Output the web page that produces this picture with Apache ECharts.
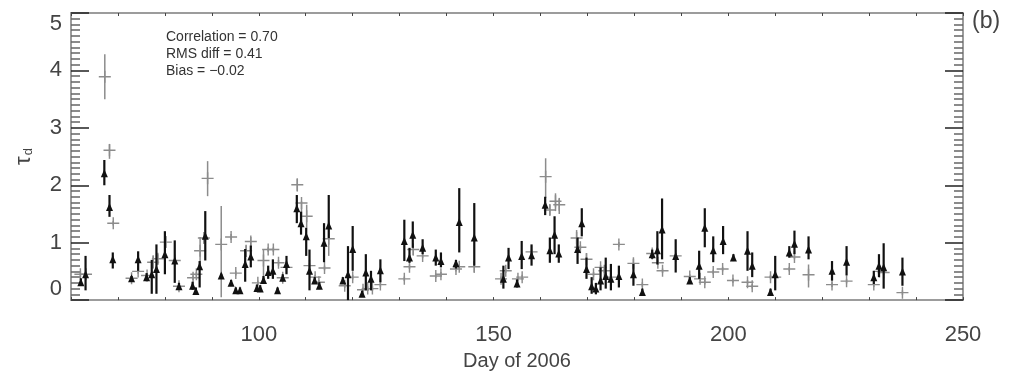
<!DOCTYPE html>
<html>
<head>
<meta charset="utf-8">
<script src="https://cdn.jsdelivr.net/npm/echarts@6/dist/echarts.min.js"></script>
<style>
html,body{margin:0;padding:0;background:#fff;}
#chart{width:1019px;height:376px;}
</style>
</head>
<body>
<div id="chart"></div>
<script>
// ---- Data ----
const blackDay = [62.1,63.1,67.1,68.2,68.9,72.9,74.3,76.1,77.2,78.2,80.0,82.1,83.0,85.9,86.6,87.4,88.6,92.0,94.1,95.1,96.0,97.1,98.3,99.6,100.3,101.0,102.0,103.0,104.0,105.1,105.9,108.1,109.0,110.1,110.8,111.9,112.9,113.9,114.9,117.9,119.0,120.0,122.0,122.8,123.9,125.9,131.0,132.1,132.8,134.9,137.7,138.8,142.0,142.7,145.9,152.1,153.2,155.0,156.0,158.1,161.0,162.0,163.0,163.9,167.9,168.8,169.8,170.9,171.8,172.8,173.9,175.0,176.7,179.8,181.7,183.8,184.9,185.9,188.8,191.8,193.8,195.0,196.8,198.9,201.1,204.1,205.1,209.0,210.0,213.0,214.1,217.1,222.1,225.2,231.0,232.1,233.1,237.1];
const blackTau = [0.31,0.45,2.21,1.62,0.71,0.38,0.71,0.40,0.45,0.54,0.80,0.69,0.24,0.25,0.16,0.59,1.12,0.43,0.30,0.17,0.17,0.63,0.76,0.21,0.20,0.35,0.49,0.51,0.17,0.39,0.63,1.60,1.34,1.11,0.51,0.34,0.25,1.00,1.30,0.34,0.45,0.89,0.11,0.48,0.37,0.52,1.03,0.74,1.14,0.91,0.74,0.68,0.64,1.36,1.09,0.37,0.74,0.29,0.77,0.78,1.66,0.87,1.14,0.81,0.89,1.34,0.54,0.24,0.20,0.34,0.42,0.37,0.42,0.45,0.14,0.80,0.87,1.23,0.77,0.34,0.60,1.26,0.87,1.03,0.74,0.86,0.60,0.14,0.45,0.83,0.98,0.88,0.51,0.67,0.40,0.60,0.57,0.50];
const blackLo  = [0.25,0.17,2.00,1.45,0.55,0.34,0.51,0.33,0.11,0.11,0.45,0.30,0.18,0.18,0.10,0.22,0.69,0.40,0.25,0.12,0.12,0.32,0.57,0.15,0.14,0.28,0.37,0.37,0.12,0.33,0.45,1.34,1.14,0.77,0.17,0.28,0.19,0.66,1.08,0.28,0.00,0.51,0.06,0.17,0.17,0.31,0.68,0.65,0.91,0.80,0.60,0.57,0.55,0.83,0.60,0.20,0.54,0.22,0.54,0.60,1.48,0.65,0.80,0.65,0.63,1.11,0.37,0.11,0.10,0.17,0.20,0.17,0.22,0.25,0.08,0.72,0.62,0.71,0.48,0.28,0.37,0.92,0.66,0.80,0.68,0.51,0.40,0.08,0.17,0.74,0.80,0.71,0.34,0.43,0.28,0.40,0.20,0.25];
const blackHi  = [0.38,0.77,2.44,1.83,0.83,0.42,0.85,0.47,0.70,0.97,1.20,1.04,0.30,0.32,0.22,0.68,1.55,0.46,0.35,0.22,0.22,0.89,0.95,0.27,0.26,0.42,0.60,0.71,0.22,0.45,0.77,1.83,1.54,1.26,0.88,0.40,0.31,1.34,1.83,0.40,0.94,1.29,0.16,0.80,0.51,0.71,1.40,0.91,1.37,1.06,0.88,0.83,0.70,1.95,1.69,0.60,0.91,0.36,1.03,0.97,1.80,1.09,1.46,0.97,1.09,1.60,0.74,0.40,0.30,0.57,0.74,0.63,0.60,0.63,0.20,0.88,1.20,1.77,1.06,0.40,0.86,1.60,1.11,1.29,0.80,1.20,0.83,0.20,0.77,0.94,1.21,1.11,0.68,0.94,0.51,0.80,0.99,0.74];

const grayDay = [62.0,63.2,67.2,68.2,69.0,72.9,74.3,76.2,77.5,78.5,80.2,82.1,83.0,86.0,86.7,87.5,88.3,89.1,92.0,94.1,95.1,97.3,98.3,99.8,101.0,102.0,103.1,104.2,105.1,105.9,108.2,109.1,110.2,110.8,112.0,112.8,114.0,114.9,118.3,120.0,122.2,123.2,124.2,125.9,131.0,132.1,132.9,134.9,137.7,138.8,142.0,142.7,145.9,151.6,152.6,155.2,156.1,158.1,161.1,162.0,163.2,164.0,167.7,168.5,169.8,171.3,172.8,173.6,175.0,176.7,179.8,181.7,183.8,185.0,186.0,188.8,191.8,194.0,195.0,196.8,198.8,201.0,204.1,205.1,209.0,210.0,213.0,214.1,217.1,222.1,225.2,231.0,232.2,233.1,237.1];
const grayTau = [0.45,0.45,3.89,2.61,1.34,0.38,0.50,0.43,0.66,0.72,1.01,0.69,0.24,0.39,0.45,0.86,1.08,2.12,0.97,1.10,0.47,0.86,1.02,0.30,0.69,0.88,0.88,0.65,0.39,0.57,2.01,1.69,1.46,0.60,0.40,0.31,0.56,1.07,0.25,0.40,0.18,0.20,0.20,0.27,0.37,0.58,0.88,0.77,0.42,0.45,0.54,0.58,0.58,0.37,0.51,0.37,0.40,0.84,2.15,1.57,1.72,1.66,1.08,0.92,0.71,0.45,0.57,0.51,0.40,0.97,0.64,0.27,0.81,0.65,0.51,0.77,0.41,0.37,0.31,0.49,0.54,0.34,0.31,0.24,0.40,0.40,0.54,0.75,0.44,0.27,0.33,0.27,0.50,0.48,0.13];
const grayLo  = [0.40,0.40,3.50,2.46,1.30,0.35,0.46,0.39,0.55,0.62,0.91,0.65,0.20,0.35,0.41,0.62,1.00,1.81,0.05,1.05,0.43,0.75,0.93,0.26,0.37,0.84,0.84,0.60,0.35,0.53,1.89,1.34,1.26,0.56,0.36,0.27,0.52,0.77,0.21,0.36,0.14,0.16,0.16,0.23,0.33,0.54,0.78,0.73,0.38,0.41,0.50,0.54,0.48,0.33,0.47,0.33,0.36,0.80,1.78,1.48,1.55,1.50,0.86,0.88,0.60,0.41,0.53,0.47,0.36,0.93,0.55,0.23,0.77,0.61,0.47,0.73,0.37,0.33,0.27,0.45,0.50,0.30,0.27,0.20,0.36,0.36,0.50,0.71,0.22,0.23,0.29,0.23,0.46,0.44,0.09];
const grayHi  = [0.50,0.50,4.28,2.72,1.38,0.41,0.54,0.47,0.78,0.80,1.11,0.73,0.28,0.43,0.49,1.10,1.15,2.42,1.64,1.15,0.51,0.95,1.10,0.34,0.88,0.92,0.92,0.70,0.43,0.61,2.12,1.72,1.66,0.64,0.44,0.35,0.60,1.37,0.29,0.44,0.22,0.24,0.24,0.31,0.41,0.62,0.98,0.81,0.46,0.49,0.58,0.62,0.68,0.41,0.55,0.41,0.44,0.88,2.47,1.66,1.86,1.78,1.22,0.96,0.82,0.49,0.61,0.55,0.44,1.01,0.72,0.31,0.85,0.69,0.55,0.81,0.45,0.37,0.35,0.53,0.58,0.38,0.35,0.28,0.44,0.44,0.58,0.79,0.62,0.31,0.37,0.31,0.54,0.52,0.17];

const xTickLabels = [100, 150, 200, 250];
const yTickLabels = [0, 1, 2, 3, 4, 5];
const annotationLines = ['Correlation = 0.70', 'RMS diff = 0.41', 'Bias = \u22120.02'];
const panelLabel = '(b)';
const xTitle = 'Day of 2006';

// ---- Chart ----
const FONT = 'Liberation Sans, Arial, sans-serif';
const chart = echarts.init(document.getElementById('chart'), null, {renderer: 'canvas'});

function errBar(color, width) {
  return function (params, api) {
    const p1 = api.coord([api.value(0), api.value(1)]);
    const p2 = api.coord([api.value(0), api.value(2)]);
    return {
      type: 'line',
      shape: {x1: p1[0], y1: p1[1], x2: p2[0], y2: p2[1]},
      style: {stroke: color, lineWidth: width}
    };
  };
}

const axisLineStyle = {color: '#9c9c9c', width: 2};
function xAxisCfg(pos, showLabel) {
  return {
    type: 'value', position: pos, min: 60, max: 250, interval: 10,
    axisLine: {show: true, onZero: false, lineStyle: axisLineStyle},
    axisTick: {show: true, inside: true, length: 3, lineStyle: {color: '#444', width: 1}},
    axisLabel: {
      show: showLabel, margin: 24, fontSize: 22, color: '#444', fontFamily: FONT,
      formatter: v => (xTickLabels.indexOf(v) >= 0 ? String(v) : '')
    },
    splitLine: {show: false},
    name: showLabel ? xTitle : '',
    nameLocation: 'middle', nameGap: 46,
    nameTextStyle: {fontSize: 20, color: '#444', fontFamily: FONT}
  };
}
function yAxisCfg(pos, showLabel) {
  return {
    type: 'value', position: pos, min: 0, max: 5, interval: 1,
    axisLine: {show: true, onZero: false, lineStyle: axisLineStyle},
    axisTick: {show: true, inside: true, length: 18, lineStyle: {color: '#222', width: 1.5}},
    minorTick: {show: true, splitNumber: 10, length: 9, lineStyle: {color: '#666', width: 1.5}},
    axisLabel: {
      show: showLabel, margin: 9, fontSize: 22, color: '#444', fontFamily: FONT,
      verticalAlignMinLabel: 'bottom', verticalAlignMaxLabel: 'top',
      formatter: v => (yTickLabels.indexOf(v) >= 0 ? String(v) : '')
    },
    splitLine: {show: false},
    name: showLabel ? '{t|\u03c4}{s|d}' : '',
    nameLocation: 'middle', nameGap: 36, nameRotate: 90,
    nameTextStyle: {
      color: '#444', fontFamily: FONT,
      rich: {
        t: {fontSize: 22, color: '#444', fontFamily: FONT},
        s: {fontSize: 13, color: '#444', fontFamily: FONT, padding: [10, 0, 0, 1]}
      }
    }
  };
}

const option = {
  animation: false,
  backgroundColor: '#ffffff',
  grid: {left: 71, right: 56, top: 13, bottom: 73},
  xAxis: [xAxisCfg('bottom', true), xAxisCfg('top', false)],
  yAxis: [yAxisCfg('left', true), yAxisCfg('right', false)],
  graphic: [
    {type: 'text', left: 166, top: 29, style: {text: annotationLines.join('\n'), fontSize: 14, lineHeight: 17, fill: '#333', fontFamily: FONT}},
    {type: 'text', left: 972, top: 10, style: {text: panelLabel, fontSize: 23, fill: '#444', fontFamily: FONT}}
  ],
  series: [
    {
      type: 'custom', name: 'grayErr', xAxisIndex: 0, yAxisIndex: 0,
      renderItem: errBar('#8c8c8c', 1.5),
      data: grayDay.map((d, i) => [d, grayLo[i], grayHi[i]]), z: 2
    },
    {
      type: 'scatter', name: 'gray', xAxisIndex: 0, yAxisIndex: 0,
      symbol: 'path://M8.8,0H11.2V8.8H20V11.2H11.2V20H8.8V11.2H0V8.8H8.8Z',
      symbolSize: 12,
      itemStyle: {color: '#8c8c8c', opacity: 1},
      data: grayDay.map((d, i) => [d, grayTau[i]]), z: 3
    },
    {
      type: 'custom', name: 'blackErr', xAxisIndex: 0, yAxisIndex: 0,
      renderItem: errBar('#111', 2.2),
      data: blackDay.map((d, i) => [d, blackLo[i], blackHi[i]]), z: 4
    },
    {
      type: 'scatter', name: 'black', xAxisIndex: 0, yAxisIndex: 0,
      symbol: 'triangle', symbolSize: [7, 8],
      itemStyle: {color: '#111', opacity: 1},
      data: blackDay.map((d, i) => [d, blackTau[i]]), z: 5
    }
  ]
};
chart.setOption(option);
</script>
</body>
</html>
